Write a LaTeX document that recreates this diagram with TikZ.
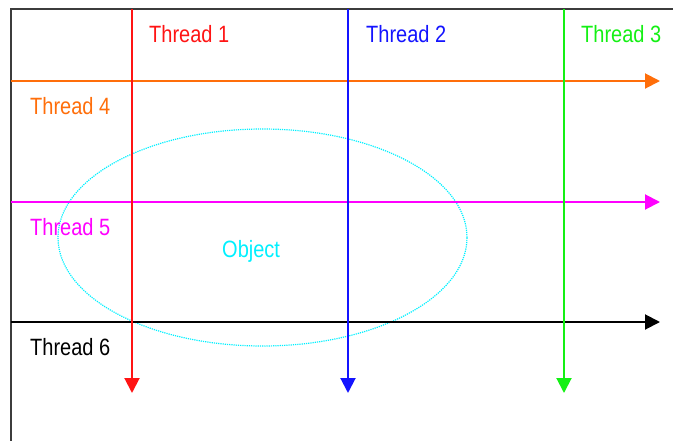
\documentclass[tikz,border=0pt]{standalone}
\usepackage{fontspec}
\setmainfont{Liberation Sans}
\usetikzlibrary{arrows.meta,shapes.geometric}
\definecolor{thrred}{RGB}{255,20,20}
\definecolor{thrblue}{RGB}{20,20,255}
\definecolor{thrgreen}{RGB}{20,240,20}
\definecolor{throrange}{RGB}{255,110,10}
\definecolor{thrmag}{RGB}{255,0,255}
\definecolor{thrcyan}{RGB}{0,240,255}
\definecolor{framegray}{RGB}{60,60,60}
\newcommand\talltext[1]{\scalebox{1}[1.18]{#1}}
\begin{document}
\begin{tikzpicture}[x=1pt,y=-1pt,
  thread/.style={line width=2pt,-{Triangle[length=15pt,width=15pt]}},
  lbl/.style={anchor=west,inner sep=0pt,font=\fontsize{20}{22}\selectfont},
  framestyle/.style={draw=framegray,line width=2pt}]
\useasboundingbox (0,0) rectangle (673,440);
% frame
\coordinate (fbl) at (11,442);
\coordinate (ftl) at (11,9);
\coordinate (ftr) at (675,9);
\draw[framestyle] (fbl) -- (ftl) -- (ftr);
% object ellipse
\node[draw=thrcyan,line width=1.2pt,dash pattern=on 1.2pt off 1pt,ellipse,minimum width=409pt,minimum height=217pt,inner sep=0pt] (obj) at (262.5,237.5) {};
\node[lbl,text=thrcyan] (objlbl) at (222,251) {\talltext{Object}};
% horizontal threads
\coordinate (h4a) at (11,81);
\coordinate (h4b) at (660,81);
\coordinate (h5a) at (11,202);
\coordinate (h5b) at (660,202);
\coordinate (h6a) at (11,322);
\coordinate (h6b) at (660,322);
\draw[thread,throrange] (h4a) -- (h4b);
\draw[thread,thrmag] (h5a) -- (h5b);
\draw[thread,black] (h6a) -- (h6b);
% vertical threads
\coordinate (v1a) at (132,9);
\coordinate (v1b) at (132,393);
\coordinate (v2a) at (348,9);
\coordinate (v2b) at (348,393);
\coordinate (v3a) at (564,9);
\coordinate (v3b) at (564,393);
\draw[thread,thrred] (v1a) -- (v1b);
\draw[thread,thrblue] (v2a) -- (v2b);
\draw[thread,thrgreen] (v3a) -- (v3b);
% labels
\node[lbl,text=thrred] (t1) at (149,34.5) {\talltext{Thread 1}};
\node[lbl,text=thrblue] (t2) at (366,34.5) {\talltext{Thread 2}};
\node[lbl,text=thrgreen] (t3) at (581,34.5) {\talltext{Thread 3}};
\node[lbl,text=throrange] (t4) at (30,106) {\talltext{Thread 4}};
\node[lbl,text=thrmag] (t5) at (30,227) {\talltext{Thread 5}};
\node[lbl,text=black] (t6) at (30,347) {\talltext{Thread 6}};
\end{tikzpicture}
\end{document}
